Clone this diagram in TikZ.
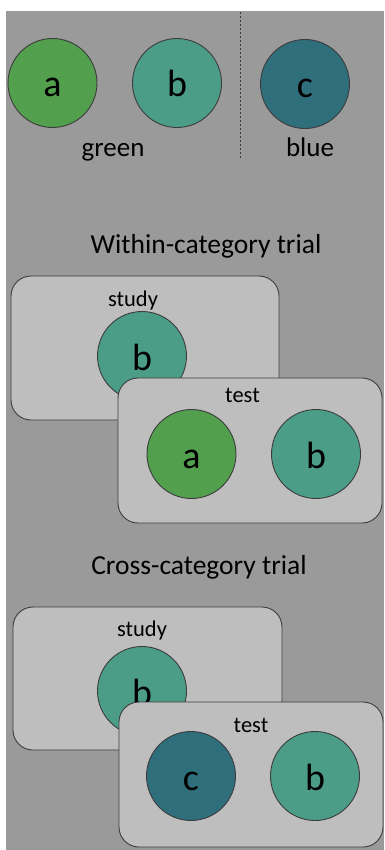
\documentclass[tikz,border=0pt]{standalone}
\usepackage{fontspec}
\setmainfont{Carlito}
\definecolor{bgc}{HTML}{9A9A9A}
\definecolor{boxc}{HTML}{BEBEBE}
\definecolor{ga}{HTML}{529F4E}
\definecolor{gb}{HTML}{4B9D88}
\definecolor{bc}{HTML}{2F6E7B}
\definecolor{edgec}{HTML}{3C3C3C}
\tikzset{
  disc/.style={circle, draw=edgec, line width=0.9pt, minimum size=89pt, inner sep=0pt,
    text height=28pt, text depth=0pt, font=\fontsize{38}{38}\selectfont},
  panel/.style={draw=edgec, line width=0.9pt, fill=boxc, rounded corners=20pt},
  lab/.style={inner sep=0pt, anchor=base, font=\fontsize{27}{27}\selectfont},
  head/.style={inner sep=0pt, anchor=base, font=\fontsize{27.5}{27.5}\selectfont},
  small/.style={inner sep=0pt, anchor=base, font=\fontsize{22.5}{22.5}\selectfont}
}
\begin{document}
\begin{tikzpicture}[x=1pt,y=-1pt]
\useasboundingbox (0,0) rectangle (384,850);
\fill[white] (0,0) rectangle (384,850);
\fill[bgc] (6,11) rectangle (384,850);
% top legend
\node[disc, fill=ga] (a0) at (52.5,83) {a};
\node[disc, fill=gb] (b0) at (177,83) {b};
\node[disc, fill=bc] (c0) at (305,84) {c};
\coordinate (d1) at (240,12);
\coordinate (d2) at (240,158);
\draw[edgec, line width=0.9pt, dash pattern=on 2pt off 2pt] (d1) -- (d2);
\node[lab] (green) at (113,157) {green};
\node[lab] (blue) at (310,157) {blue};
% within-category
\node[head] (wt) at (206,253) {Within-category trial};
\draw[panel] (11,276) rectangle (279,420);
\node[small] (ws) at (133,306) {study};
\node[disc, fill=gb] (wsb) at (142,356) {b};
\draw[panel] (118,378) rectangle (382,523);
\node[small] (wte) at (242.5,402) {test};
\node[disc, fill=ga] (wta) at (191.5,454) {a};
\node[disc, fill=gb] (wtb) at (316,454) {b};
% cross-category
\node[head] (ct) at (199,574) {Cross-category trial};
\draw[panel] (13,607) rectangle (282,750);
\node[small] (cs) at (142,636) {study};
\node[disc, fill=gb] (csb) at (142,691) {b};
\draw[panel] (119,702) rectangle (383,847);
\node[small] (cte) at (251,732) {test};
\node[disc, fill=bc] (ctc) at (191,776) {c};
\node[disc, fill=gb] (ctb) at (315,776) {b};
\end{tikzpicture}
\end{document}
